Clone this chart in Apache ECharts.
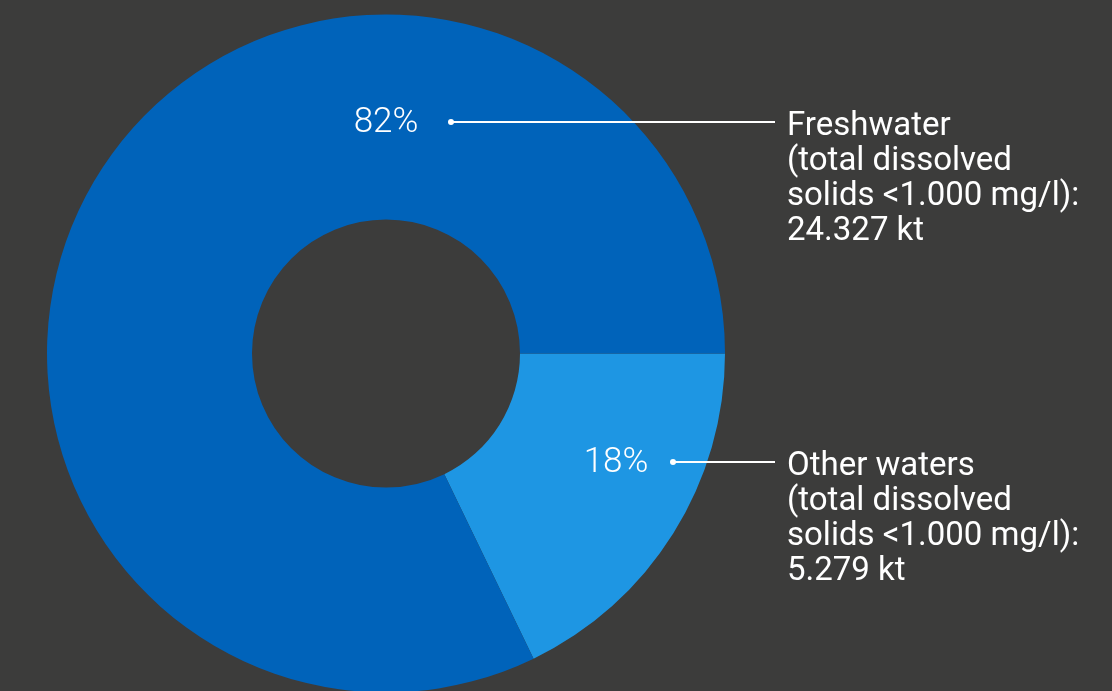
<!DOCTYPE html>
<html>
<head>
<meta charset="utf-8">
<script src="https://cdn.jsdelivr.net/npm/echarts@6/dist/echarts.min.js"></script>
<style>
  html, body { margin: 0; padding: 0; background: #3c3c3b; }
  #chart { width: 1112px; height: 691px; }
</style>
</head>
<body>
<div id="chart"></div>
<script>
// Water volumes by type (kt)
const categories = ['Freshwater', 'Other waters'];
const values = [24.327, 5.279];
const valueLabels = ['24.327 kt', '5.279 kt'];
const descriptions = [
  '(total dissolved\nsolids <1.000 mg/l):',
  '(total dissolved\nsolids <1.000 mg/l):'
];
const colors = ['#0063ba', '#1e96e3'];

// Annotation placement (percent text, dot, leader end, side text)
const annot = [
  { pctX: 386, y: 122, dotX: 451 },
  { pctX: 616, y: 462, dotX: 673 }
];
const lineEndX = 775;
const sideTextX = 787;

const total = values.reduce((a, b) => a + b, 0);
const pct = values.map(v => Math.round(v / total * 100) + '%');

const chart = echarts.init(document.getElementById('chart'), null, { renderer: 'canvas' });

// Other waters starts at 3 o'clock and runs clockwise; freshwater fills the rest
const pieData = [
  { name: categories[1], value: values[1], itemStyle: { color: colors[1] } },
  { name: categories[0], value: values[0], itemStyle: { color: colors[0] } }
];

const graphics = [];
annot.forEach((a, i) => {
  graphics.push({
    type: 'line', z: 100,
    shape: { x1: a.dotX, y1: a.y, x2: lineEndX, y2: a.y },
    style: { stroke: '#ffffff', lineWidth: 2 }
  });
  graphics.push({
    type: 'circle', z: 101,
    shape: { cx: a.dotX, cy: a.y, r: 3 },
    style: { fill: '#ffffff' }
  });
  graphics.push({
    type: 'text', z: 101,
    x: a.pctX, y: a.y + 1,
    style: {
      text: pct[i], fill: '#ffffff',
      font: '300 35px Roboto',
      align: 'center', verticalAlign: 'middle'
    }
  });
  graphics.push({
    type: 'text', z: 101,
    x: sideTextX, y: a.y - 13,
    style: {
      text: categories[i] + '\n' + descriptions[i] + '\n' + valueLabels[i],
      fill: '#ffffff',
      font: '400 33px Roboto',
      lineHeight: 35,
      align: 'left', verticalAlign: 'top'
    }
  });
});

chart.setOption({
  backgroundColor: '#3c3c3b',
  animation: false,
  series: [{
    type: 'pie',
    center: [386, 353.5],
    radius: [134, 339],
    startAngle: 0,
    clockwise: true,
    silent: true,
    z: 1,
    label: { show: false },
    labelLine: { show: false },
    emphasis: { disabled: true },
    itemStyle: { borderWidth: 0 },
    data: pieData
  }],
  graphic: graphics
});
</script>
</body>
</html>
